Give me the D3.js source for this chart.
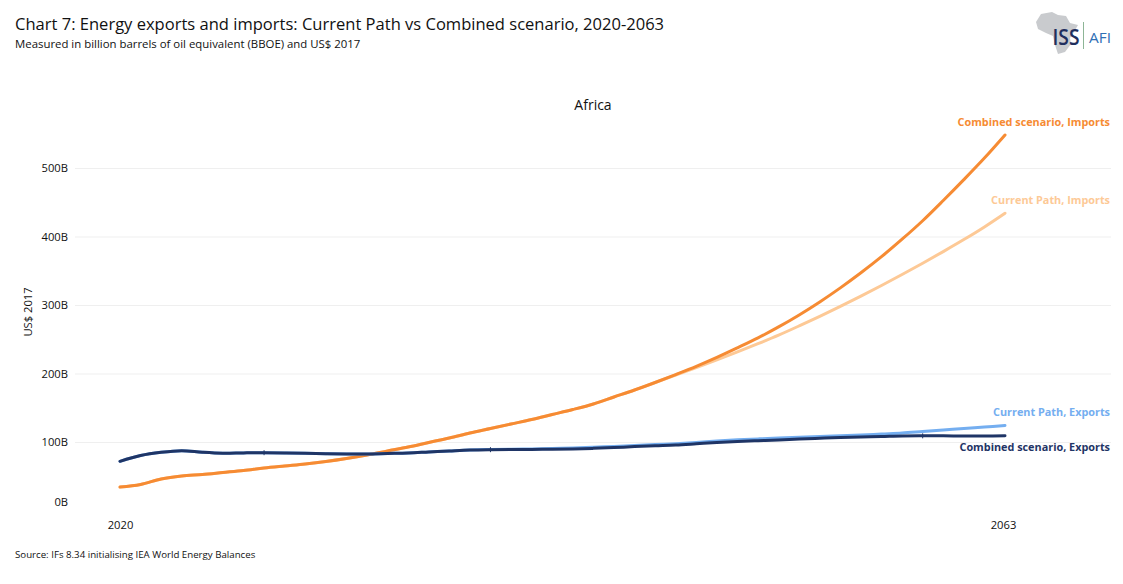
<!DOCTYPE html>
<html><head><meta charset="utf-8">
<script src="https://cdn.jsdelivr.net/npm/d3@7/dist/d3.min.js"></script>
<style>html,body{margin:0;padding:0;background:#fff}svg{display:block}text{font-family:"Open Sans",sans-serif}</style>
</head><body><svg id="c" width="1123" height="584"></svg>
<script>
const years = d3.range(2020, 2064);
const yTicks = [0, 100, 200, 300, 400, 500];
const xTicks = [2020, 2063];
const markerYears = [2027, 2038, 2059];
const combinedImports = [34.3,38,46,50.4,52.6,55.5,58.4,62,65,67.9,71.5,75.9,81,86.9,92.7,99.3,105.8,113.1,119.7,126.3,132.8,140.1,147.4,155.5,165.7,175.9,186.9,198.5,210.5,223.5,237.5,252,268,285.5,304.5,325,347,370.5,396,423,452.5,483,514.5,548.2];
const currentImports = [34.3,38,46,50.4,52.6,55.5,58.4,62,65,67.9,71.5,75.9,81,86.9,92.7,99.3,105.8,113.1,119.7,126.3,132.8,140.1,147.4,155.5,165.7,175.9,186.9,197.8,208.8,220,231.5,243.5,256,269.5,283.5,298,313,328.5,344.5,361,378,395.5,414,434];
const currentExports = [71.8,80.3,85,87.3,85,83.6,84.1,84.4,84.1,83.5,82.8,82.5,82.5,83.2,83.9,85.4,86.9,88.3,89,89.5,89.9,90.5,91.2,92.3,93.6,94.9,96.2,97.5,99.3,101.5,103.2,104.5,105.8,106.9,108,109,110.2,111.7,113.1,115.3,117.5,119.7,121.9,124.1];
const combinedExports = [71.8,80.3,85,87.3,85,83.6,84.1,84.4,84.1,83.5,82.8,82.5,82.5,83.2,83.9,85.4,86.9,88.3,88.8,88.9,89.2,89.3,89.8,90.7,91.8,93.3,94.5,95.6,97.4,99.3,100.7,101.9,102.9,104.4,105.5,106.6,107.3,108,108.8,109,109,108.8,108.8,109.2];
const seriesNames = ["Current Path, Imports","Combined scenario, Imports","Current Path, Exports","Combined scenario, Exports"];
const seriesValues = [currentImports, combinedImports, currentExports, combinedExports];
const seriesColors = ["#fdc996","#f68b33","#74aef0","#1f3566"];
const labelY = [201.5,123.5,413.5,448.5];

const svg = d3.select("#c");
const x = d3.scaleLinear().domain([2020,2063]).range([120,1005]);
const y = d3.scaleLinear().domain([0,500]).range([510.5,168]);
const ink = "#111";

// grid
svg.append("g").selectAll("line").data(yTicks.filter(d=>d>0)).join("line")
  .attr("x1",75).attr("x2",1111).attr("y1",d=>y(d)+.5).attr("y2",d=>y(d)+.5)
  .attr("stroke","#efefef").attr("stroke-width",1);

// axes
const ya = svg.append("g").attr("transform","translate(68,0)")
  .call(d3.axisLeft(y).tickValues(yTicks).tickSize(0).tickPadding(0).tickFormat(d=>d+"B"));
ya.select(".domain").remove();
ya.selectAll("text").attr("font-size",11.2).attr("fill",ink).attr("dy",d=>d===0?"-8px":"0.32em")
  .style("dominant-baseline",d=>d===0?"middle":null);
const xa = svg.append("g").attr("transform","translate(0,525)")
  .call(d3.axisBottom(x).tickValues(xTicks).tickSize(0).tickPadding(0).tickFormat(d3.format("d")));
xa.select(".domain").remove();
xa.selectAll("text").attr("font-size",11.2).attr("fill",ink).attr("y",0).attr("dy","0.36em").attr("dx",d=>d===2063?-2:0);

// lines
const line = d3.line().x((d,i)=>x(years[i])).y(d=>y(d)).curve(d3.curveCatmullRom.alpha(0.5));
svg.append("g").selectAll("path").data(seriesValues).join("path")
  .attr("d",line).attr("fill","none").attr("stroke",(d,i)=>seriesColors[i])
  .attr("stroke-width",3).attr("stroke-linecap","round").attr("stroke-linejoin","round");

// small marks on the dark line
svg.append("g").selectAll("line").data(markerYears).join("line")
  .attr("x1",d=>x(d)).attr("x2",d=>x(d))
  .attr("y1",d=>y(combinedExports[years.indexOf(d)])-2.5)
  .attr("y2",d=>y(combinedExports[years.indexOf(d)])+2.5)
  .attr("stroke","#1f3566").attr("stroke-width",1);

// direct labels
svg.append("g").selectAll("text").data(seriesNames).join("text")
  .attr("x",1110).attr("y",(d,i)=>labelY[i]).attr("text-anchor","end").attr("dominant-baseline","middle")
  .attr("font-size",10.85).attr("font-weight",700).attr("fill",(d,i)=>seriesColors[i]).text(d=>d);

// text
svg.append("text").attr("x",15).attr("y",30).attr("font-size",16.55).attr("fill",ink)
  .text("Chart 7: Energy exports and imports: Current Path vs Combined scenario, 2020-2063");
svg.append("text").attr("x",15).attr("y",48).attr("font-size",11.4).attr("fill",ink)
  .text("Measured in billion barrels of oil equivalent (BBOE) and US$ 2017");
svg.append("text").attr("x",593).attr("y",110).attr("text-anchor","middle").attr("font-size",14).attr("fill",ink).text("Africa");
svg.append("text").attr("transform","translate(32,312) rotate(-90)").attr("text-anchor","middle").attr("font-size",11.2).attr("fill",ink).text("US$ 2017");
svg.append("text").attr("x",15).attr("y",558).attr("font-size",9.7).attr("fill",ink).text("Source: IFs 8.34 initialising IEA World Energy Balances");

// logo
const logo = svg.append("g");
logo.append("path").attr("fill","#c9cbce")
 .attr("d","M1041,14 L1052,12 L1058,15 L1066,16 L1070,23 L1078,25 L1074,32 L1070,38 L1071,44 L1065,52 L1058,54 L1055,45 L1053,36 L1046,33 L1038,29 L1036,22 Z");
logo.append("text").attr("x",1052.5).attr("y",45).attr("font-size",21).attr("font-weight",600).attr("textLength",27).attr("lengthAdjust","spacingAndGlyphs").attr("fill","#1f2f5e").text("ISS");
logo.append("line").attr("x1",1083.5).attr("x2",1083.5).attr("y1",22).attr("y2",49).attr("stroke","#8db596").attr("stroke-width",1);
logo.append("text").attr("x",1089).attr("y",42.5).attr("font-size",15).attr("textLength",22).attr("lengthAdjust","spacingAndGlyphs").attr("fill","#2f6fb4").text("AFI");
</script></body></html>
